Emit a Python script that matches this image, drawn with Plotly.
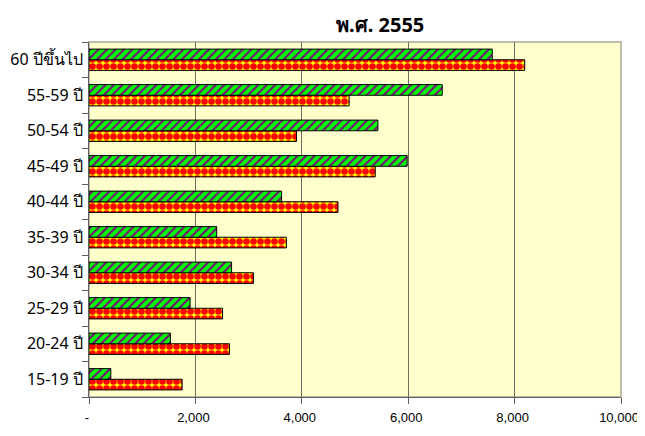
import plotly.graph_objects as go

categories = ["15-19 ปี", "20-24 ปี", "25-29 ปี", "30-34 ปี", "35-39 ปี",
              "40-44 ปี", "45-49 ปี", "50-54 ปี", "55-59 ปี", "60 ปีขึ้นไป"]
green_values = [410, 1530, 1900, 2680, 2400, 3620, 5980, 5430, 6640, 7580]
red_values = [1750, 2640, 2510, 3090, 3710, 4680, 5380, 3900, 4890, 8190]
x_tickvals = [0, 2000, 4000, 6000, 8000, 10000]
x_ticktext = ["-", "2,000", "4,000", "6,000", "8,000", "10,000"]
title_text = "พ.ศ. 2555"

font_family = "Tahoma, 'Noto Sans', 'Liberation Sans', sans-serif"
tick_family = "'Liberation Sans', Arial, sans-serif"

fig = go.Figure()
fig.add_trace(go.Bar(
    y=categories, x=red_values, orientation="h", name="red",
    marker=dict(color="#FFFF00", line=dict(color="#000000", width=1),
                pattern=dict(shape=".", fgcolor="#FF0000", bgcolor="#FFFF00",
                             size=7, solidity=0.7, fillmode="replace")),
))
fig.add_trace(go.Bar(
    y=categories, x=green_values, orientation="h", name="green",
    marker=dict(color="#00FF00", line=dict(color="#000000", width=1),
                pattern=dict(shape="/", fgcolor="#800080", bgcolor="#00FF00",
                             size=6, solidity=0.35, fillmode="replace")),
))

fig.update_layout(
    width=645, height=436,
    margin=dict(l=81, r=32, t=34, b=47),
    paper_bgcolor="white", plot_bgcolor="#FFFFCC",
    barmode="group", bargap=0.4, bargroupgap=0,
    showlegend=False,
    font=dict(family=font_family, size=14, color="#000000"),
    title=dict(text=title_text, x=0.577, xanchor="center", y=0.962, yanchor="middle",
               font=dict(family=font_family, size=20, color="#000000", weight="bold")),
    xaxis=dict(range=[0, 10000], tickvals=x_tickvals, ticktext=x_ticktext,
               showgrid=True, gridcolor="#6E6E60", gridwidth=1,
               showline=True, linecolor="#606060", linewidth=1,
               ticks="outside", ticklen=6, tickcolor="#606060",
               ticklabelstandoff=2, ticklabeloverflow="allow",
               ticklabelshift=-2,
               zeroline=False, automargin=False,
               tickfont=dict(family=tick_family, size=13, color="#000000")),
    yaxis=dict(type="category", categoryorder="array", categoryarray=categories,
               showgrid=False, showline=True, linecolor="#606060", linewidth=1,
               ticks="outside", ticklen=6, tickcolor="#606060",
               tickson="boundaries", ticklabelstandoff=2, automargin=False,
               tickfont=dict(size=16, color="#000000")),
    shapes=[dict(type="rect", xref="x domain", yref="y domain", x0=0, x1=1, y0=0, y1=1,
                 line=dict(color="#BDBDAA", width=2), layer="below")],
)

fig.write_html("out.html")
